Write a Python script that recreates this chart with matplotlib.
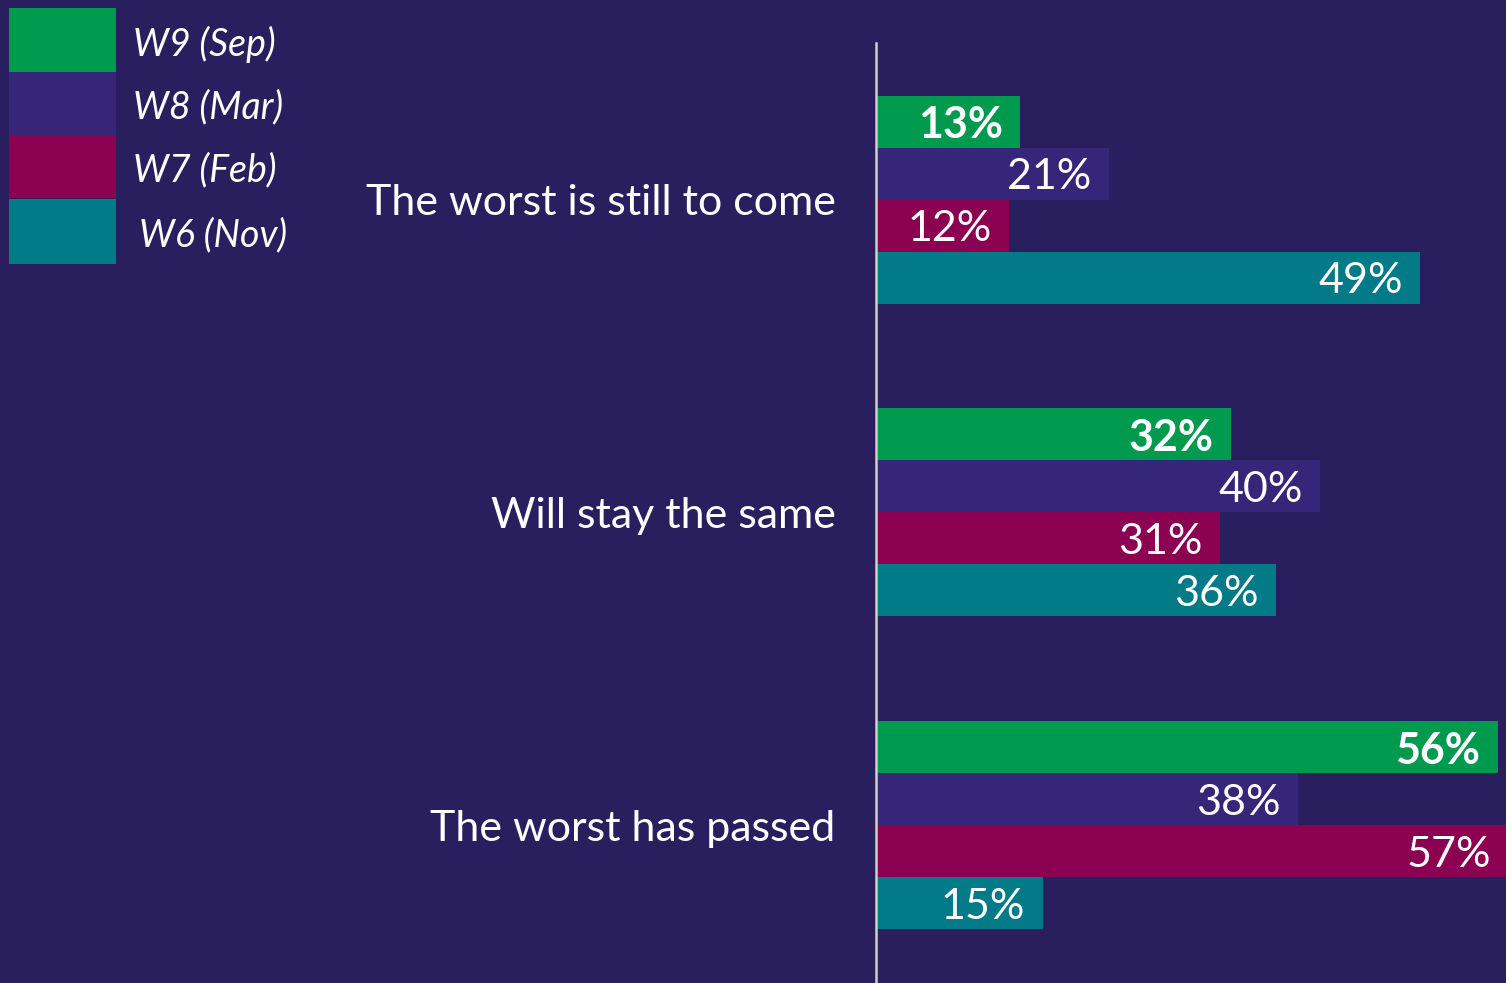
import matplotlib
matplotlib.use("Agg")
import matplotlib.pyplot as plt
from matplotlib.patches import Rectangle

plt.rcParams['font.family'] = ['Lato', 'DejaVu Sans']

categories = ["The worst is still to come", "Will stay the same", "The worst has passed"]
series_names = ["W9 (Sep)", "W8 (Mar)", "W7 (Feb)", "W6 (Nov)"]
w9 = [13, 32, 56]
w8 = [21, 40, 38]
w7 = [12, 31, 57]
w6 = [49, 36, 15]
series_values = [w9, w8, w7, w6]
colors = ["#009A4E", "#35267A", "#8B0050", "#037A88"]
bg = "#291E5E"

W, H = 1506, 983
fig = plt.figure(figsize=(W / 100, H / 100), dpi=100, facecolor=bg)

ax_left, ax_right, ax_top, ax_bottom = 876, 1506, 43, 983
ax = fig.add_axes([ax_left / W, 1 - ax_bottom / H, (ax_right - ax_left) / W, (ax_bottom - ax_top) / H])
ax.set_facecolor(bg)

h = 52 / 312.7
offsets = [-1.5 * h, -0.5 * h, 0.5 * h, 1.5 * h]
for i, (vals, col) in enumerate(zip(series_values, colors)):
    ys = [g + offsets[i] for g in range(len(categories))]
    ax.barh(ys, vals, height=h, color=col, edgecolor='none', zorder=2)
    for y, v in zip(ys, vals):
        ax.annotate(f"{v}%", xy=(v, y), xytext=(-12.5, -2.5), textcoords='offset points',
                    ha='right', va='center', color='white', fontsize=31,
                    fontweight='bold' if i == 0 else 'normal', zorder=3,
                    annotation_clip=False)

ax.set_xlim(0, 630 / 11.1)
ax.set_ylim(2.505, -0.5005)
for s in ['top', 'right', 'bottom']:
    ax.spines[s].set_visible(False)
ax.spines['left'].set_color('#D0D0D0')
ax.spines['left'].set_linewidth(1.8)
ax.spines['left'].set_zorder(4)
ax.set_xticks([])
ax.set_yticks(range(len(categories)))
ax.set_yticklabels(categories, fontsize=31, color='white')
ax.tick_params(axis='y', length=0, pad=29)

# legend
leg_tops = [8, 72, 135, 199]
leg_bottoms = [72, 135, 198, 264]
text_x = [133, 133, 133, 139]
for name, col, t, b, tx in zip(series_names, colors, leg_tops, leg_bottoms, text_x):
    fig.add_artist(Rectangle((9 / W, 1 - b / H), (116 - 9) / W, (b - t) / H,
                             transform=fig.transFigure, facecolor=col, edgecolor='none'))
    fig.text(tx / W, 1 - ((t + b) / 2 + 4) / H, name, ha='left', va='center', color='white',
             fontsize=27, fontstyle='italic')

fig.savefig("out.png", dpi=100, facecolor=bg)
